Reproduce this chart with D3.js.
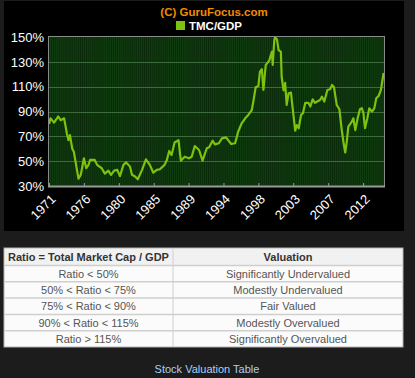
<!DOCTYPE html>
<html>
<head>
<meta charset="utf-8">
<script src="https://cdn.jsdelivr.net/npm/d3@7"></script>
<style>
  html, body { margin: 0; padding: 0; background: #1c1c1c; }
  svg { display: block; font-family: "Liberation Sans", Arial, sans-serif; }
</style>
</head>
<body>
<svg id="chart" width="415" height="378"></svg>
<script>
// TMC/GDP ratio (%)
const years = [
  1971.0, 1971.2, 1971.65, 1972.2, 1972.5, 1972.95, 1973.3, 1973.5, 1973.7, 1974.0,
  1974.2, 1974.8, 1975.1, 1975.5, 1975.8, 1976.1, 1976.3, 1976.9, 1977.2, 1977.8,
  1978.2, 1978.65, 1979.0, 1979.4, 1979.8, 1980.15, 1980.6, 1980.95, 1981.45, 1981.7,
  1982.1, 1982.45, 1983.0, 1983.5, 1984.0, 1984.45, 1984.9, 1985.3, 1985.9, 1986.2,
  1986.5, 1986.8, 1987.2, 1987.7, 1988.0, 1988.5, 1989.05, 1989.4, 1989.8, 1990.35,
  1990.8, 1991.35, 1991.65, 1992.1, 1992.4, 1992.9, 1993.3, 1993.8, 1994.1, 1994.5,
  1995.0, 1995.4, 1995.85, 1996.3, 1996.7, 1997.15, 1997.35, 1997.65, 1998.0, 1998.2,
  1998.45, 1998.65, 1998.95, 1999.4, 1999.75, 1999.85, 2000.05, 2000.15, 2000.4, 2000.6,
  2000.9, 2001.0, 2001.25, 2001.45, 2001.65, 2001.9, 2002.2, 2002.45, 2002.75, 2002.95,
  2003.2, 2003.5, 2003.75, 2004.05, 2004.45, 2004.7, 2005.0, 2005.3, 2005.95, 2006.2,
  2006.5, 2006.9, 2007.25, 2007.5, 2007.75, 2008.1, 2008.45, 2008.75, 2009.05, 2009.2,
  2009.4, 2009.6, 2010.05, 2010.25, 2010.5, 2010.8, 2011.1, 2011.35, 2011.55, 2011.75,
  2012.05, 2012.3, 2012.65, 2012.95, 2013.2, 2013.5, 2013.8, 2014.15
];
const ratio = [
  80, 84.5, 81, 86, 83, 84.5, 72.5, 67, 71, 60,
  57.6, 36, 39, 52.3, 44.3, 47, 51, 51, 47, 44.3,
  40, 42.4, 39, 42.4, 43, 38, 47, 49, 45.6, 39,
  37.6, 35.4, 43, 51.5, 47, 40.7, 43, 43.5, 47, 51,
  58.2, 55, 65, 67, 50.4, 53.6, 52.3, 53.6, 62.2, 59,
  50.4, 60.4, 61.2, 66.5, 63.5, 64.4, 68.4, 69.2, 67, 63.8,
  64.4, 73.8, 80.5, 84.5, 87.2, 91.2, 98, 109.5, 110.5, 122,
  124, 107.3, 127.5, 131, 138.2, 127.5, 147.6, 149.8, 148, 139.5,
  138.2, 118, 107, 113, 95.3, 104.7, 105.2, 91.2, 74.6, 79,
  76.5, 87.2, 88.6, 97, 97, 94, 99.8, 97, 99.3, 102,
  98, 107.3, 107.9, 111.4, 109.5, 95.3, 91.8, 75, 62.2, 57,
  65.7, 77.8, 81.8, 84.5, 75, 84.5, 91.8, 92.6, 88.6, 76.5,
  84.5, 92.6, 89.9, 92.6, 100.6, 102.5, 107.3, 121
];

const xTickValues = [1971, 1975.5, 1980, 1984.5, 1989, 1993.5, 1998, 2002.5, 2007, 2011.5];
const xTickLabels = ["1971", "1976", "1980", "1985", "1989", "1994", "1998", "2003", "2007", "2012"];
const yTickValues = [30, 50, 70, 90, 110, 130, 150];

const tableHeader = ["Ratio = Total Market Cap / GDP", "Valuation"];
const ratioRanges = ["Ratio < 50%", "50% < Ratio < 75%", "75% < Ratio < 90%", "90% < Ratio < 115%", "Ratio > 115%"];
const valuations = ["Significantly Undervalued", "Modestly Undervalued", "Fair Valued", "Modestly Overvalued", "Significantly Overvalued"];

const data = years.map((y, i) => ({ year: y, value: ratio[i] }));

const svg = d3.select("#chart");
const margin = { left: 49, top: 37, right: 31, bottom: 192 };
const W = 415, H = 378;
const plotW = 384 - margin.left, plotH = 186 - margin.top;

// black chart panel
svg.append("rect").attr("x", 4).attr("y", 1).attr("width", 400).attr("height", 230).attr("fill", "#000");

const g = svg.append("g").attr("transform", `translate(${margin.left},${margin.top})`);

const x = d3.scaleLinear().domain([1971, 2014.2]).range([0, plotW]);
const y = d3.scaleLinear().domain([30, 150]).range([plotH, 0]);

g.append("rect").attr("width", plotW).attr("height", plotH).attr("fill", "#123f12");

// dense vertical stripes, one per quarter
g.append("g").selectAll("line")
  .data(d3.range(1971, 2014.2, 0.25))
  .join("line")
  .attr("x1", d => x(d) + 0.5).attr("x2", d => x(d) + 0.5)
  .attr("y1", 0).attr("y2", plotH)
  .attr("stroke", "#0a2a0a").attr("stroke-width", 1);

// horizontal grid
g.append("g").selectAll("line")
  .data(yTickValues.slice(1, -1))
  .join("line")
  .attr("x1", 0).attr("x2", plotW)
  .attr("y1", d => Math.round(y(d)) + 0.5).attr("y2", d => Math.round(y(d)) + 0.5)
  .attr("stroke", "#3d6b3d").attr("stroke-width", 1);

// line
g.append("path")
  .datum(data)
  .attr("fill", "none")
  .attr("stroke", "#7cc20e")
  .attr("stroke-width", 2.2)
  .attr("stroke-linejoin", "round")
  .attr("d", d3.line().x(d => x(d.year)).y(d => y(d.value)));

// frame
g.append("rect").attr("x", -0.5).attr("y", -0.5).attr("width", plotW + 1).attr("height", plotH + 1)
  .attr("fill", "none").attr("stroke", "#8a8a8a").attr("stroke-width", 1);
g.append("line").attr("x1", -1).attr("x2", plotW + 1).attr("y1", plotH + 0.5).attr("y2", plotH + 0.5)
  .attr("stroke", "#9a9a9a").attr("stroke-width", 2);

// x axis
const xAxis = g.append("g").attr("transform", `translate(0,${plotH})`)
  .call(d3.axisBottom(x).tickValues(xTickValues).tickSize(-3).tickPadding(0)
    .tickFormat((d, i) => xTickLabels[i]));
xAxis.select(".domain").remove();
xAxis.selectAll(".tick line").attr("stroke", "#9a9a9a");
xAxis.selectAll(".tick text")
  .attr("fill", "#fff").attr("font-size", 13)
  .attr("text-anchor", "end")
  .attr("transform", "translate(7,14) rotate(-45)")
  .attr("dy", 0).attr("y", 0).attr("x", 0);

// y axis
const yAxis = g.append("g")
  .call(d3.axisLeft(y).tickValues(yTickValues).tickSize(0).tickPadding(5).tickFormat(d => d + "%"));
yAxis.select(".domain").remove();
yAxis.selectAll(".tick text").attr("fill", "#fff").attr("font-size", 13);

// title and legend
svg.append("text").attr("x", 214).attr("y", 16).attr("text-anchor", "middle")
  .attr("fill", "#f08c00").attr("font-weight", "bold").attr("font-size", 11.5)
  .text("(C) GuruFocus.com");
svg.append("rect").attr("x", 176).attr("y", 21).attr("width", 9).attr("height", 9).attr("fill", "#7cc20e");
svg.append("text").attr("x", 189).attr("y", 30)
  .attr("fill", "#fff").attr("font-weight", "bold").attr("font-size", 11.5)
  .text("TMC/GDP");

// valuation table
const tX = 4, tY = 248, tW = 399, colSplit = 173;
const rowH = [17.5, 16.3, 16.3, 16.3, 16.3, 16.3];
const rows = [tableHeader].concat(ratioRanges.map((r, i) => [r, valuations[i]]));
const rowY = d3.cumsum([0].concat(rowH.slice(0, -1)));
const table = svg.append("g").attr("transform", `translate(${tX},${tY})`);
table.append("rect").attr("width", tW).attr("height", d3.sum(rowH)).attr("fill", "#fbfbfb")
  .attr("stroke", "#b0b0b0");
table.append("rect").attr("x", 1).attr("y", 1).attr("width", tW - 2).attr("height", rowH[0] - 1).attr("fill", "#f1f1f1");
const rowG = table.selectAll("g.row").data(rows).join("g")
  .attr("transform", (d, i) => `translate(0,${rowY[i]})`);
rowG.filter((d, i) => i > 0).append("line")
  .attr("x1", 1).attr("x2", tW - 1).attr("y1", 0).attr("y2", 0)
  .attr("stroke", "#cfcfcf").attr("stroke-width", 1.5);
table.append("line").attr("x1", colSplit - tX).attr("x2", colSplit - tX)
  .attr("y1", 0).attr("y2", d3.sum(rowH)).attr("stroke", "#cfcfcf");
rowG.each(function (d, i) {
  const r = d3.select(this);
  [0, 1].forEach(c => {
    const cx = c === 0 ? (colSplit - tX) / 2 : (colSplit - tX) + (tW - (colSplit - tX)) / 2;
    r.append("text").attr("x", cx).attr("y", rowH[i] / 2 + 4)
      .attr("text-anchor", "middle")
      .attr("font-size", 11)
      .attr("font-weight", i === 0 ? "bold" : "normal")
      .attr("fill", i === 0 ? "#333" : "#555")
      .text(d[c]);
  });
});

svg.append("text").attr("x", 207).attr("y", 373).attr("text-anchor", "middle")
  .attr("fill", "#a8d0f5").attr("font-size", 11)
  .text("Stock Valuation Table");
</script>
</body>
</html>
